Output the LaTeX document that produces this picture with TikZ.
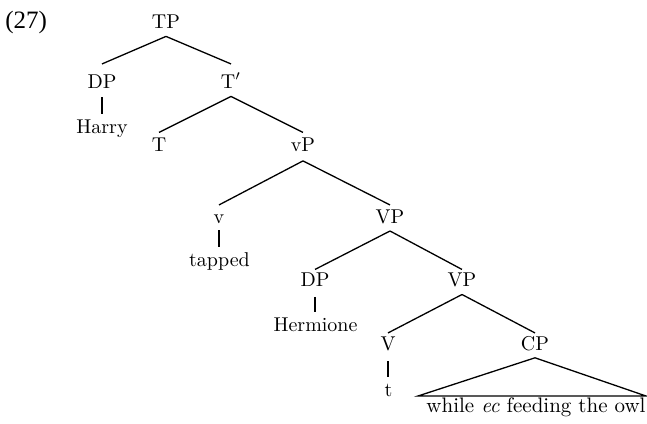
\documentclass[tikz,border=0pt]{standalone}
\usepackage{fontspec}
\newfontfamily\exfont{Liberation Serif}
\begin{document}
\begin{tikzpicture}[x=0.5pt,y=-0.5pt,
  lab/.style={anchor=base, inner sep=0pt, text height=6.83pt, text depth=0pt, font=\fontsize{10}{12}\selectfont},
  leaf/.style={anchor=base, inner sep=0pt, text height=6.94pt, text depth=0pt, font=\fontsize{10}{12}\selectfont},
  br/.style={line width=0.65pt}]
\useasboundingbox (0,0) rectangle (647,423);
% example number
\node[anchor=base west, inner sep=0pt, font=\exfont\fontsize{12.5}{14}\selectfont] (ex) at (5,28) {(27)};
% nodes
\node[lab] (TP) at (166,28) {TP};
\node[lab] (DPa) at (102,88) {DP};
\node[lab] (Tbar) at (231,88) {T$'$};
\node[leaf] (Harry) at (102,133) {Harry};
\node[lab] (T) at (159,151.5) {T};
\node[lab] (vP) at (303,151.5) {vP};
\node[lab] (v) at (219,223) {v};
\node[lab] (VPa) at (390,223) {VP};
\node[leaf] (tapped) at (219.5,266) {tapped};
\node[lab] (DPb) at (315,286.5) {DP};
\node[lab] (VPb) at (462,286.5) {VP};
\node[leaf] (Herm) at (315.5,331.5) {Hermione};
\node[lab] (V) at (388,350) {V};
\node[lab] (CP) at (535,350) {CP};
\node[leaf] (t) at (388.5,396) {t};
\node[anchor=base, inner sep=0pt, font=\fontsize{10.5}{12}\selectfont] (cpt) at (536,412.5) {while \textit{ec} feeding the owl};
\coordinate (triL) at (418,396);
\coordinate (triR) at (646,396);
% branches
\draw[br] ([yshift=-4pt]TP.south) -- ([yshift=5pt]DPa.north);
\draw[br] ([yshift=-4pt]TP.south) -- ([yshift=5pt]Tbar.north);
\draw[br] ([yshift=-4.5pt]DPa.south) -- ([yshift=2.5pt]DPa.south |- Harry.north);
\draw[br] ([yshift=-4pt]Tbar.south) -- ([yshift=2.5pt]T.north);
\draw[br] ([yshift=-4pt]Tbar.south) -- ([yshift=2.5pt]vP.north);
\draw[br] ([yshift=-4.5pt]vP.south) -- ([yshift=2pt]v.north);
\draw[br] ([yshift=-4.5pt]vP.south) -- ([yshift=2pt]VPa.north);
\draw[br] ([yshift=-3.5pt]v.south) -- ([yshift=2.5pt]v.south |- tapped.north);
\draw[br] ([yshift=-3.8pt]VPa.south) -- ([yshift=1.5pt]DPb.north);
\draw[br] ([yshift=-3.8pt]VPa.south) -- ([yshift=1.5pt]VPb.north);
\draw[br] ([yshift=-5pt]DPb.south) -- ([yshift=2.5pt]DPb.south |- Herm.north);
\draw[br] ([yshift=-3.8pt]VPb.south) -- ([yshift=1.5pt]V.north);
\draw[br] ([yshift=-3.8pt]VPb.south) -- ([yshift=1.5pt]CP.north);
\draw[br] ([yshift=-5.5pt]V.south) -- ([yshift=2.5pt]V.south |- t.north);
\draw[br] ([yshift=-3.7pt]CP.south) -- (triL) -- (triR) -- cycle;
\end{tikzpicture}
\end{document}
